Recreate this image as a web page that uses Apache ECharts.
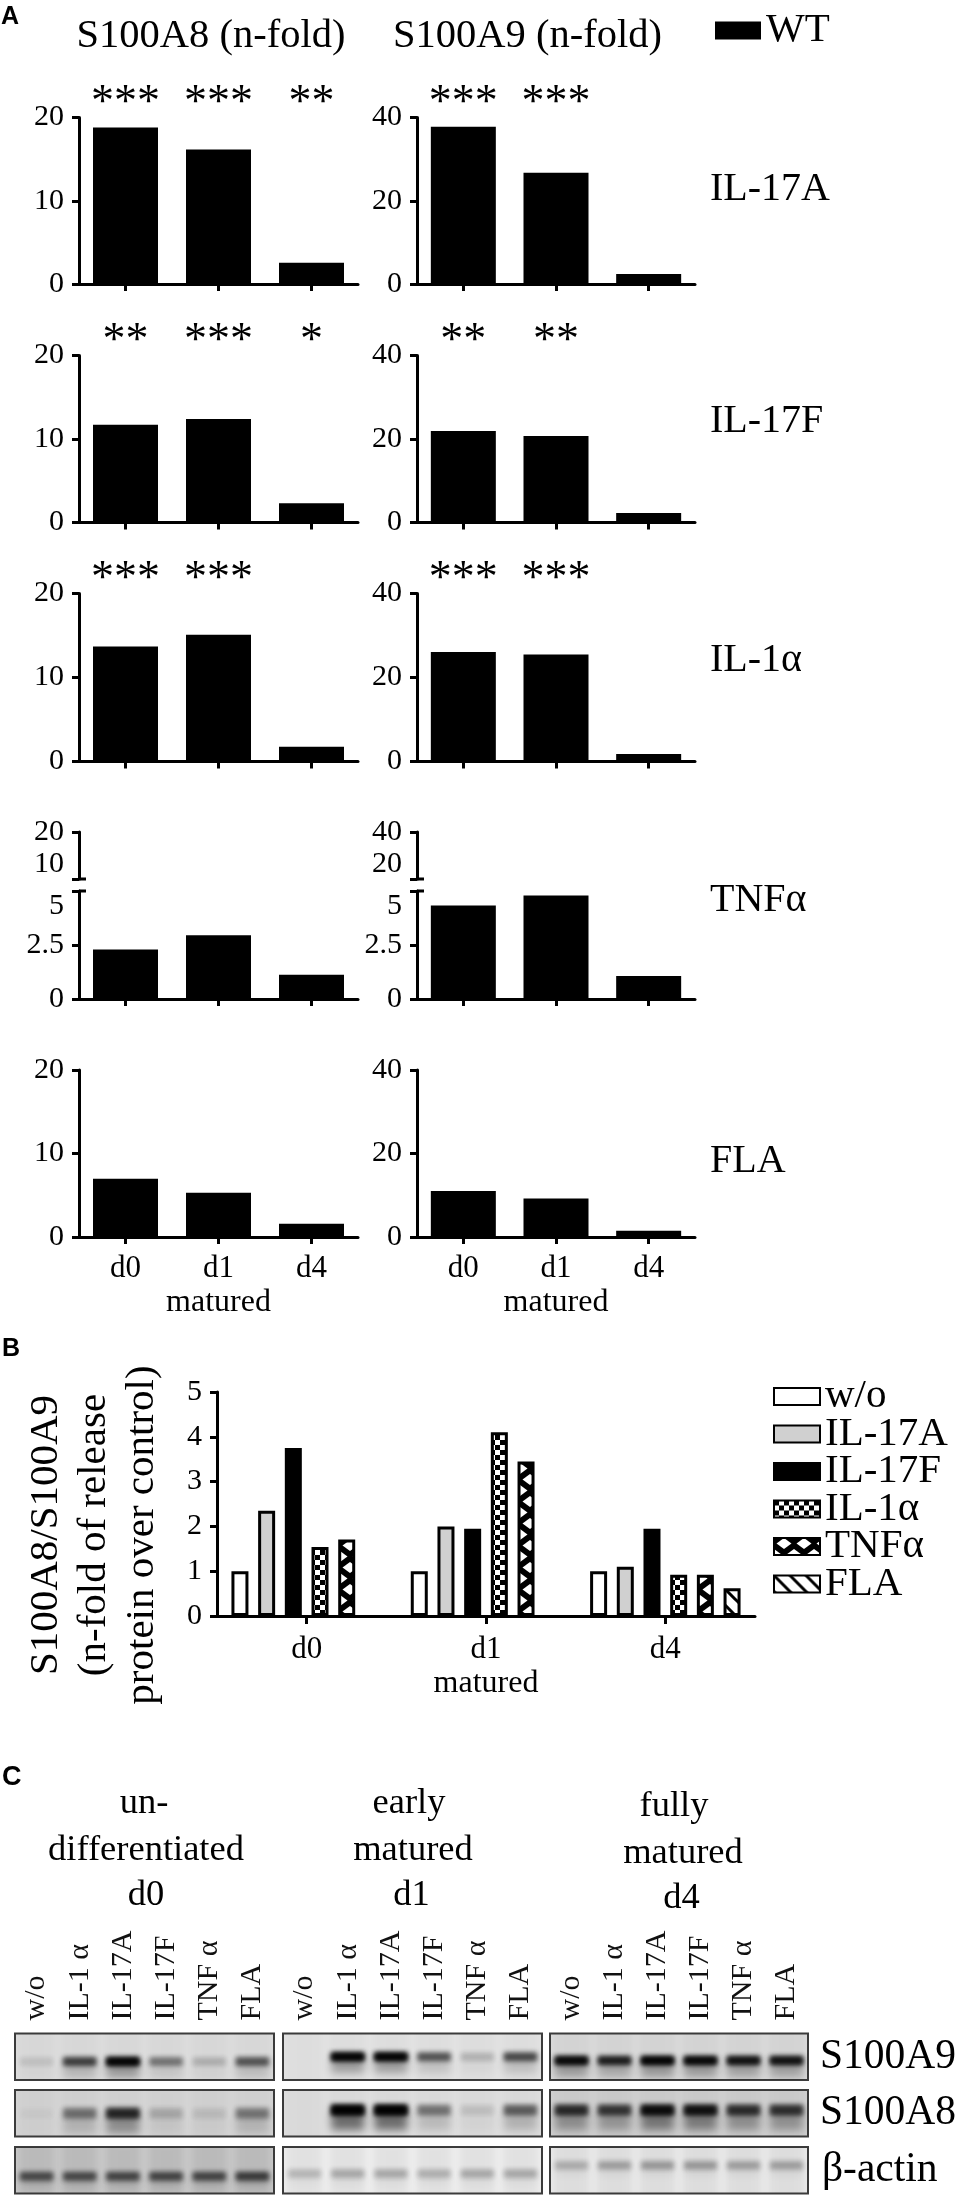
<!DOCTYPE html>
<html>
<head>
<meta charset="utf-8">
<title>S100A8 S100A9</title>
<script src="https://cdn.jsdelivr.net/npm/echarts@6/dist/echarts.min.js"></script>
<style>
  html, body { margin: 0; padding: 0; background: #fff; }
  #chart { width: 960px; height: 2198px; }
</style>
</head>
<body>
<div id="chart"></div>
<script>
const days = ['d0', 'd1', 'd4']

// panel A, n-fold values per stimulus
const a8IL17A = [18.8, 16.15, 2.55]
const a9IL17A = [37.8, 26.7, 2.4]
const a8IL17F = [11.7, 12.4, 2.3]
const a9IL17F = [21.9, 20.7, 2.25]
const a8IL1a = [13.7, 15.1, 1.75]
const a9IL1a = [26.1, 25.5, 1.8]
const a8TNFa = [2.29, 2.95, 1.12]
const a9TNFa = [4.33, 4.79, 1.07]
const a8FLA = [6.97, 5.3, 1.6]
const a9FLA = [11, 9.2, 1.47]

const starsA8IL17A = ['***', '***', '**']
const starsA9IL17A = ['***', '***', '']
const starsA8IL17F = ['**', '***', '*']
const starsA9IL17F = ['**', '**', '']
const starsIL1a = ['***', '***', '']

// panel B
const ratioWo = [1, 1, 1]
const ratioIL17A = [2.35, 2, 1.1]
const ratioIL17F = [3.75, 1.95, 1.95]
const ratioIL1a = [1.54, 4.1, 0.92]
const ratioTNFa = [1.71, 3.45, 0.92]
const ratioFLA = [null, null, 0.62]
const ratioNames = ['w/o', 'IL-17A', 'IL-17F', 'IL-1α', 'TNFα', 'FLA']

// panel C, band darkness per lane (0 to 1)
const lanes = ['w/o', 'IL-1 α', 'IL-17A', 'IL-17F', 'TNF α', 'FLA']
const blotA9d0 = [0.07, 0.55, 1, 0.32, 0.12, 0.45]
const blotA8d0 = [0.02, 0.3, 0.65, 0.12, 0.06, 0.28]
const blotActinD0 = [0.45, 0.45, 0.47, 0.47, 0.47, 0.52]
const blotA9d1 = [0, 1, 1, 0.45, 0.12, 0.5]
const blotA8d1 = [0, 1, 1, 0.3, 0.07, 0.38]
const blotActinD1 = [0.12, 0.16, 0.16, 0.14, 0.16, 0.16]
const blotA9d4 = [0.95, 0.75, 1, 0.95, 0.85, 0.85]
const blotA8d4 = [0.62, 0.55, 0.85, 0.8, 0.6, 0.58]
const blotActinD4 = [0.14, 0.18, 0.2, 0.2, 0.18, 0.18]

const serif = '"Liberation Serif", "Times New Roman", serif'
const sans = '"Liberation Sans", Arial, sans-serif'
const grid = []
const xAxis = []
const yAxis = []
const series = []
const graphic = []

const addText = (text, x, y, size, extra) => {
  graphic.push({
    type: 'text',
    x: x,
    y: y,
    rotation: extra && extra.rotation ? extra.rotation : 0,
    style: {
      text: text,
      font: (extra && extra.weight ? extra.weight + ' ' : '') + size + 'px ' + (extra && extra.family ? extra.family : serif),
      fill: '#000',
      textAlign: extra && extra.align ? extra.align : 'center',
      textVerticalAlign: 'middle',
      lineHeight: extra && extra.lineHeight ? extra.lineHeight : undefined
    }
  })
}

const axisLine = { show: true, lineStyle: { color: '#000', width: 3 } }
const axisTick = { show: true, length: 7, lineStyle: { color: '#000', width: 3 } }

const valueAxis = (gridIndex, min, max, interval, extraLabel) => ({
  type: 'value',
  gridIndex: gridIndex,
  min: min,
  max: max,
  interval: interval,
  splitLine: { show: false },
  axisLine: axisLine,
  axisTick: axisTick,
  axisLabel: Object.assign({ fontFamily: serif, fontSize: 30, color: '#000', margin: 15, showMinLabel: true, showMaxLabel: true }, extraLabel)
})

// one bar panel of A: pushes grid, axes and series
const addBars = (left, top, bottom, width, values, axisOpt) => {
  const index = grid.length
  grid.push({ left: left, top: top, width: width, height: bottom - top })
  xAxis.push({
    type: 'category',
    gridIndex: index,
    data: days,
    show: axisOpt.showX !== false,
    axisLine: axisLine,
    axisTick: { show: true, alignWithLabel: true, length: 7, lineStyle: { color: '#000', width: 3 } },
    axisLabel: { show: !!axisOpt.labels, fontFamily: serif, fontSize: 31, color: '#000', margin: 16 },
    name: axisOpt.labels ? 'matured' : '',
    nameLocation: 'middle',
    nameGap: 50,
    nameTextStyle: { fontFamily: serif, fontSize: 32, color: '#000' }
  })
  yAxis.push(valueAxis(index, axisOpt.min, axisOpt.max, axisOpt.interval, axisOpt.label))
  const xAxisIndex = xAxis.length - 1
  const yAxisIndex = yAxis.length - 1
  series.push({
    name: 'WT',
    type: 'bar',
    xAxisIndex: xAxisIndex,
    yAxisIndex: yAxisIndex,
    data: values,
    barWidth: 65,
    itemStyle: { color: '#000' }
  })
  if (axisOpt.stars) {
    xAxis.push({
      type: 'category',
      gridIndex: index,
      position: 'top',
      data: axisOpt.stars,
      axisLine: { show: false },
      axisTick: { show: false },
      axisLabel: { fontFamily: serif, fontSize: 46, color: '#000', margin: -9, interval: 0 }
    })
  }
}

const leftCol = { left: 79, width: 279, max: 20, interval: 10 }
const rightCol = { left: 417, width: 278, max: 40, interval: 20 }

const rows = [
  { top: 117.5, bottom: 284, a8: a8IL17A, a9: a9IL17A, stars8: starsA8IL17A, stars9: starsA9IL17A },
  { top: 355.5, bottom: 522.5, a8: a8IL17F, a9: a9IL17F, stars8: starsA8IL17F, stars9: starsA9IL17F },
  { top: 593.5, bottom: 761.5, a8: a8IL1a, a9: a9IL1a, stars8: starsIL1a, stars9: starsIL1a },
  { top: 1070, bottom: 1237, a8: a8FLA, a9: a9FLA, labels: true }
]

rows.forEach((r) => {
  addBars(leftCol.left, r.top, r.bottom, leftCol.width, r.a8, { min: 0, max: leftCol.max, interval: leftCol.interval, stars: r.stars8, labels: r.labels })
  addBars(rightCol.left, r.top, r.bottom, rightCol.width, r.a9, { min: 0, max: rightCol.max, interval: rightCol.interval, stars: r.stars9, labels: r.labels })
})

// TNFα row has a broken axis: lower part 0-5, upper stub above it
;[[leftCol, a8TNFa, 10], [rightCol, a9TNFa, 20]].forEach(([col, values, stubMin]) => {
  addBars(col.left, 891, 999, col.width, values, {
    min: 0, max: 5, interval: 2.5,
    label: { verticalAlignMaxLabel: 'top' }
  })
  addBars(col.left, 832, 879, col.width, [], {
    min: stubMin, max: col.max, interval: stubMin, showX: false,
    label: { verticalAlignMinLabel: 'bottom' }
  })
  // the small caps on the inner side of the break
  graphic.push({ type: 'rect', shape: { x: col.left, y: 877.5, width: 7, height: 3 }, style: { fill: '#000' } })
  graphic.push({ type: 'rect', shape: { x: col.left, y: 889.5, width: 7, height: 3 }, style: { fill: '#000' } })
})

// hatch fills for panel B
const makeTile = (w, h, draw) => {
  const c = document.createElement('canvas')
  c.width = w
  c.height = h
  const ctx = c.getContext('2d')
  ctx.fillStyle = '#fff'
  ctx.fillRect(0, 0, w, h)
  draw(ctx)
  return { image: c, repeat: 'repeat' }
}
const checkFill = makeTile(10, 10, (ctx) => {
  ctx.fillStyle = '#000'
  ctx.fillRect(0, 0, 5, 5)
  ctx.fillRect(5, 5, 5, 5)
})
const crossFill = makeTile(20, 22, (ctx) => {
  ctx.fillStyle = '#000'
  ctx.fillRect(0, 0, 20, 22)
  ctx.fillStyle = '#fff'
  const diamond = (x, y) => {
    ctx.beginPath()
    ctx.moveTo(x - 7.5, y)
    ctx.lineTo(x, y - 5.5)
    ctx.lineTo(x + 7.5, y)
    ctx.lineTo(x, y + 5.5)
    ctx.fill()
  }
  diamond(10, 5.5)
  diamond(0, 16.5)
  diamond(20, 16.5)
})
const stripeFill = makeTile(16, 16, (ctx) => {
  ctx.strokeStyle = '#000'
  ctx.lineWidth = 3
  ctx.beginPath()
  ctx.moveTo(-4, -4)
  ctx.lineTo(20, 20)
  ctx.moveTo(-4, 12)
  ctx.lineTo(4, 20)
  ctx.moveTo(12, -4)
  ctx.lineTo(20, 4)
  ctx.stroke()
})

const ratioValues = [ratioWo, ratioIL17A, ratioIL17F, ratioIL1a, ratioTNFa, ratioFLA]
const ratioFills = ['#fff', '#d0d0d0', '#000', checkFill, crossFill, stripeFill]

const gridB = grid.length
grid.push({ left: 217, top: 1392, width: 538, height: 224 })
xAxis.push({
  type: 'category',
  gridIndex: gridB,
  data: days,
  axisLine: axisLine,
  axisTick: { show: true, alignWithLabel: true, length: 8, lineStyle: { color: '#000', width: 3 } },
  axisLabel: { fontFamily: serif, fontSize: 31, color: '#000', margin: 18 },
  name: 'matured',
  nameLocation: 'middle',
  nameGap: 52,
  nameTextStyle: { fontFamily: serif, fontSize: 32, color: '#000' }
})
yAxis.push(valueAxis(gridB, 0, 5, 1))
const xB = xAxis.length - 1
const yB = yAxis.length - 1
ratioNames.forEach((name, i) => {
  series.push({
    name: name,
    type: 'bar',
    xAxisIndex: xB,
    yAxisIndex: yB,
    data: ratioValues[i],
    barWidth: 17,
    barGap: '57%',
    itemStyle: { color: ratioFills[i], borderColor: '#000', borderWidth: 3 }
  })
})

// panel C blots: soft bands. The rect sits off canvas and only its blurred shadow lands in the lane
const SHIFT = 1400
const blurRect = (x, y, w, h, alpha, blur) => ({
  type: 'rect',
  shape: { x: x - SHIFT, y: y, width: w, height: h },
  style: { fill: '#000', shadowColor: 'rgba(0,0,0,' + alpha + ')', shadowBlur: blur, shadowOffsetX: SHIFT }
})
const renderBand = (cfg) => (params, api) => {
  const lane = api.value(0)
  const v = api.value(1)
  const x = api.coord([lane, 0])[0]
  const top = api.coord([lane, 0])[1]
  const bottom = api.coord([lane, 1])[1]
  const bw = api.size([1, 0])[0]
  const yc = top + (bottom - top) * cfg.y
  const w = bw * 0.76
  return {
    type: 'group',
    children: [
      blurRect(x - bw * 0.4, top - 10, bw * 0.8, bottom - top + 20, cfg.wash, 8),
      blurRect(x - w / 2, yc, w, cfg.tail, v * cfg.tailDark, 8),
      blurRect(x - w / 2, yc - cfg.h / 2, w, cfg.h, v, 5),
      blurRect(x - w / 2, yc - cfg.h / 2, w, cfg.h, v * 0.7, 5)
    ]
  }
}

const blotCols = [
  { left: 15, width: 259, rows: [blotA9d0, blotA8d0, blotActinD0], bg: ['#dcdcdc', '#d4d4d4', '#cacaca'], y: [0.6, 0.5, 0.63], wash: [0.02, 0.02, 0.08] },
  { left: 283, width: 259, rows: [blotA9d1, blotA8d1, blotActinD1], bg: ['#e2e2e2', '#dedede', '#eeeeee'], y: [0.5, 0.43, 0.57], wash: [0.02, 0.02, 0.05] },
  { left: 550, width: 258, rows: [blotA9d4, blotA8d4, blotActinD4], bg: ['#dadada', '#d0d0d0', '#ebebeb'], y: [0.58, 0.43, 0.39], wash: [0.03, 0.03, 0.06] }
]
const blotTops = [2033.5, 2090, 2147]
const blotTails = [16, 20, 10]
const blotTailDark = [0.3, 0.5, 0.3]
const blotCores = [8, 10, 8]

blotCols.forEach((col) => {
  col.rows.forEach((values, r) => {
    const index = grid.length
    grid.push({
      show: true,
      left: col.left,
      top: blotTops[r],
      width: col.width,
      height: 46.5,
      backgroundColor: col.bg[r],
      borderColor: '#3c3c3c',
      borderWidth: 2
    })
    xAxis.push({
      type: 'category',
      gridIndex: index,
      position: 'top',
      data: lanes,
      axisLine: { show: false },
      axisTick: { show: false },
      axisLabel: { show: r === 0, rotate: 90, interval: 0, fontFamily: serif, fontSize: 30, color: '#111', margin: 13 }
    })
    yAxis.push({ type: 'value', gridIndex: index, min: 0, max: 1, inverse: true, show: false })
    series.push({
      type: 'custom',
      xAxisIndex: xAxis.length - 1,
      yAxisIndex: yAxis.length - 1,
      clip: true,
      silent: true,
      renderItem: renderBand({ y: col.y[r], h: blotCores[r], tail: blotTails[r], tailDark: blotTailDark[r], wash: col.wash[r] }),
      data: values.map((v, i) => [i, v])
    })
  })
})

// free text
addText('A', 1, 17, 25, { align: 'left', weight: 'bold', family: sans })
addText('B', 2, 1349, 25, { align: 'left', weight: 'bold', family: sans })
addText('C', 2, 1778, 27, { align: 'left', weight: 'bold', family: sans })
addText('S100A8 (n-fold)', 211, 36, 40.5)
addText('S100A9 (n-fold)', 527.5, 36, 40.5)
addText('IL-17A', 710, 189, 40, { align: 'left' })
addText('IL-17F', 710, 421, 40, { align: 'left' })
addText('IL-1α', 710, 660, 40, { align: 'left' })
addText('TNFα', 710, 900, 40, { align: 'left' })
addText('FLA', 710, 1161, 40, { align: 'left' })
addText('S100A8/S100A9\n(n-fold of release\nprotein over control)', 94, 1535, 41, { rotation: Math.PI / 2, lineHeight: 48 })
addText('un-', 144, 1803, 36.5)
addText('differentiated', 146, 1850, 36.5)
addText('d0', 146, 1895, 36.5)
addText('early', 409, 1803, 36.5)
addText('matured', 413, 1850, 36.5)
addText('d1', 411.5, 1895, 36.5)
addText('fully', 674, 1806, 36.5)
addText('matured', 683, 1853, 36.5)
addText('d4', 681.5, 1898, 36.5)
addText('S100A9', 820, 2057, 41.5, { align: 'left' })
addText('S100A8', 820, 2113, 41.5, { align: 'left' })
addText('β-actin', 822, 2170, 41.5, { align: 'left' })

const chart = echarts.init(document.getElementById('chart'))
chart.setOption({
  animation: false,
  backgroundColor: '#fff',
  legend: [
    {
      data: ['WT'],
      left: 710,
      top: 5,
      selectedMode: false,
      icon: 'rect',
      itemWidth: 46,
      itemHeight: 18,
      itemGap: 0,
      textStyle: { fontFamily: serif, fontSize: 41, color: '#000', lineHeight: 40 }
    },
    {
      data: ratioNames,
      orient: 'vertical',
      left: 773,
      top: 1376,
      padding: 0,
      selectedMode: false,
      icon: 'rect',
      itemWidth: 46,
      itemHeight: 17,
      itemGap: -3.5,
      textStyle: { fontFamily: serif, fontSize: 41, color: '#000', lineHeight: 36 }
    }
  ],
  grid: grid,
  xAxis: xAxis,
  yAxis: yAxis,
  series: series,
  graphic: graphic
})
</script>
</body>
</html>
